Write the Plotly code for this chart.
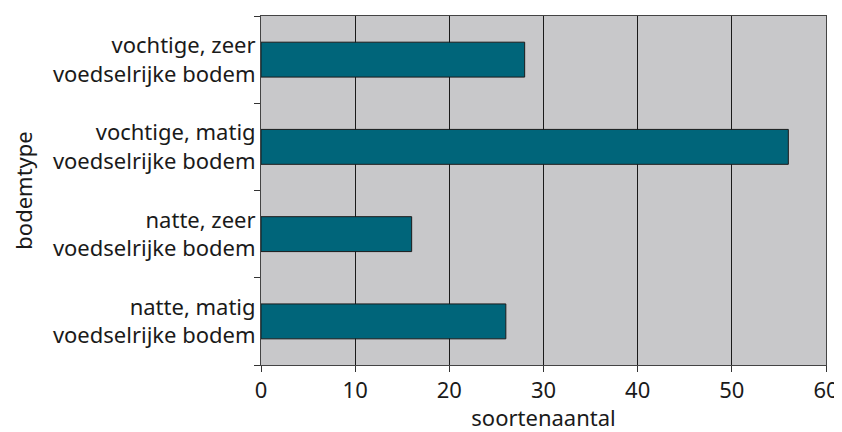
import plotly.graph_objects as go

categories = [
    "natte, matig<br>voedselrijke bodem",
    "natte, zeer<br>voedselrijke bodem",
    "vochtige, matig<br>voedselrijke bodem",
    "vochtige, zeer<br>voedselrijke bodem",
]
values = [26, 16, 56, 28]
x_ticks = [0, 10, 20, 30, 40, 50, 60]

font_family = "Noto Sans, Inter, sans-serif"
fs = 22

fig = go.Figure(
    go.Bar(
        x=values,
        y=categories,
        orientation="h",
        marker=dict(color="#00657a", line=dict(color="#1b1b1b", width=1)),
        width=0.4,
    )
)

# The page body has an 8px default margin, so the figure is sized 834x424
fig.update_layout(
    width=834,
    height=424,
    margin=dict(l=253, r=16, t=8, b=67),
    paper_bgcolor="white",
    plot_bgcolor="#c8c8ca",
    font=dict(family=font_family, size=fs, color="#1a1a1a"),
    showlegend=False,
)

fig.update_xaxes(
    range=[0, 60],
    tickvals=x_ticks,
    ticks="outside",
    ticklen=6,
    tickcolor="#333",
    tickfont=dict(family=font_family, size=fs, color="#1a1a1a"),
    showgrid=True,
    gridcolor="#1a1a1a",
    gridwidth=1,
    zeroline=False,
    showline=True,
    linecolor="#444",
    linewidth=1,
    mirror=True,
    title=dict(text="soortenaantal", standoff=6, font=dict(family=font_family, size=fs)),
    automargin=False,
    fixedrange=True,
)

fig.update_yaxes(
    type="category",
    categoryorder="array",
    categoryarray=categories,
    tickson="boundaries",
    ticks="outside",
    ticklen=6,
    tickcolor="#333",
    tickfont=dict(family=font_family, size=fs, color="#1a1a1a"),
    showgrid=False,
    showline=True,
    linecolor="#444",
    linewidth=1,
    mirror=True,
    title=dict(text="bodemtype", standoff=30, font=dict(family=font_family, size=fs)),
    automargin=False,
    fixedrange=True,
)

fig.write_html("out.html")
